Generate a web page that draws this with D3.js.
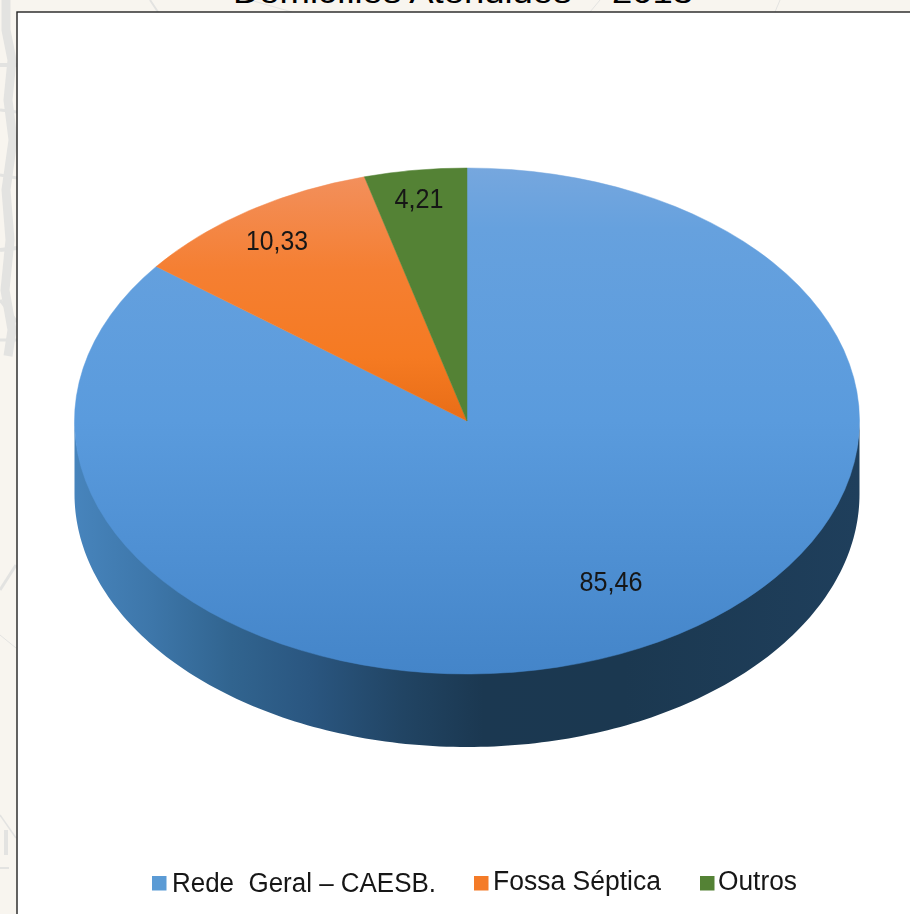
<!DOCTYPE html>
<html><head><meta charset="utf-8">
<script src="https://cdn.jsdelivr.net/npm/d3@7"></script>
<style>html,body{margin:0;padding:0;background:#f8f5ef;overflow:hidden}svg{display:block}text{font-family:"Liberation Sans",Arial,sans-serif;fill:#161616}</style>
</head><body><svg id="c" width="910" height="914"></svg>
<script>
const title = "Domicílios Atendidos – 2013";
const categories = ["Rede  Geral – CAESB.", "Fossa Séptica", "Outros"];
const values = [85.46, 10.33, 4.21];
const valueLabels = ["85,46", "10,33", "4,21"];
const swatchColors = ["#5b9bd5", "#f47b28", "#548235"];

const W = 910, H = 914, cx = 467, cy = 421, rx = 392.5, ry = 253, depth = 73;
const svg = d3.select("#c");
const defs = svg.append("defs");
defs.append("filter").attr("id", "soft").append("feGaussianBlur").attr("stdDeviation", 0.4);

function gradient(id, attrs, stops) {
  const g = defs.append("linearGradient").attr("id", id).attr("gradientUnits", "userSpaceOnUse");
  Object.entries(attrs).forEach(([k, v]) => g.attr(k, v));
  stops.forEach(([o, c]) => g.append("stop").attr("offset", o).attr("stop-color", c));
}
// gradients are in the flat pie's local space (y from -rx to rx)
gradient("gBlue", {x1: 0, x2: 0, y1: -rx, y2: rx}, [[0, "#76a7de"], [0.12, "#66a1de"], [0.5, "#5a9bdd"], [1, "#4485c9"]]);
gradient("gOrange", {x1: 0, x2: 0, y1: -rx, y2: 0}, [[0, "#f29160"], [0.4, "#f57f32"], [0.75, "#f57a22"], [1, "#e86d16"]]);
gradient("gWall", {x1: cx - rx, x2: cx + rx, y1: 0, y2: 0}, [[0, "#4784bc"], [0.1, "#3d76a9"], [0.2, "#31648f"], [0.3, "#2a5680"], [0.42, "#214463"], [0.52, "#1b3851"], [0.7, "#1b3850"], [1, "#1f3f5c"]]);
const fills = ["url(#gBlue)", "url(#gOrange)", "#548235"];

// faint sketched page backdrop
const sketch = svg.append("g").attr("fill", "none").attr("stroke", "#e3e3e1");
[
  ["M6,0 L6,30 L12,60 L8,100 L13,140 L6,190 L10,240 L5,290 L12,330 L8,356", 9],
  ["M0,65 L17,65", 4], ["M0,110 L17,112", 3], ["M0,175 L17,178", 3], ["M0,250 L17,248", 4], ["M0,300 L17,322 ", 3], ["M0,340 L17,340", 3],
  ["M0,590 L16,565", 3], ["M0,635 L16,648", 1], ["M0,815 L16,838", 1.5], ["M6,830 L6,855", 4], ["M0,868 L9,868", 2],
  ["M150,0 L158,12", 2], ["M250,0 L292,12", 1], ["M600,0 L590,12", 1], ["M780,0 L775,12", 1]
].forEach(([d, w]) => sketch.append("path").attr("d", d).attr("stroke-width", w));

svg.append("text").attr("x", 463).attr("y", 3).attr("text-anchor", "middle").style("fill", "#000")
  .attr("font-size", 32).attr("textLength", 460).attr("lengthAdjust", "spacingAndGlyphs").text(title);

// chart frame
svg.append("rect").attr("x", 17).attr("y", 12).attr("width", W).attr("height", H)
  .attr("fill", "#fff").attr("stroke", "#222").attr("stroke-width", 1.4);

// pie
const pie = d3.pie().sort(null).startAngle(0).endAngle(2 * Math.PI);
const arcs = pie(values);
const arc = d3.arc().innerRadius(0).outerRadius(rx);

// front wall (starts a little under the top face so no seam shows)
const frontAngles = d3.range(Math.PI / 2, 1.5 * Math.PI + 0.001, Math.PI / 180);
const wall = d3.area()
  .x(t => cx + rx * Math.sin(t))
  .y0(t => cy - ry * Math.cos(t) - 3)
  .y1(t => cy - ry * Math.cos(t) + depth);
svg.append("path").attr("d", wall(frontAngles)).attr("fill", "url(#gWall)");

const pieTop = svg.append("g").attr("transform", `translate(${cx},${cy}) scale(1,${ry / rx})`);
pieTop.selectAll("path").data(arcs).join("path").attr("d", arc)
  .attr("fill", (d, i) => fills[i]).attr("stroke", (d, i) => fills[i]).attr("stroke-width", 0.6);

// data labels
const labelPos = [[611, 591, 63], [277, 250, 62], [419, 208, 49]];
svg.selectAll("text.val").data(valueLabels).join("text").attr("class", "val")
  .attr("x", (d, i) => labelPos[i][0]).attr("y", (d, i) => labelPos[i][1])
  .attr("text-anchor", "middle").attr("font-size", 28).attr("filter", "url(#soft)")
  .attr("textLength", (d, i) => labelPos[i][2]).attr("lengthAdjust", "spacingAndGlyphs").text(d => d);

// legend
const legendLayout = [
  {sx: 152, tx: 172, w: 264, y: 892, sy: 876},
  {sx: 474, tx: 493, w: 168, y: 890, sy: 876},
  {sx: 700, tx: 718, w: 79, y: 890, sy: 876}
];
const lg = svg.selectAll("g.lg").data(categories).join("g").attr("class", "lg");
lg.append("rect").attr("x", (d, i) => legendLayout[i].sx).attr("y", (d, i) => legendLayout[i].sy)
  .attr("width", 14.5).attr("height", 14.5).attr("fill", (d, i) => swatchColors[i]);
lg.append("text").attr("x", (d, i) => legendLayout[i].tx).attr("y", (d, i) => legendLayout[i].y)
  .attr("font-size", 27).attr("xml:space", "preserve").style("white-space", "pre").attr("filter", "url(#soft)")
  .attr("textLength", (d, i) => legendLayout[i].w).attr("lengthAdjust", "spacingAndGlyphs").text(d => d);
</script></body></html>
